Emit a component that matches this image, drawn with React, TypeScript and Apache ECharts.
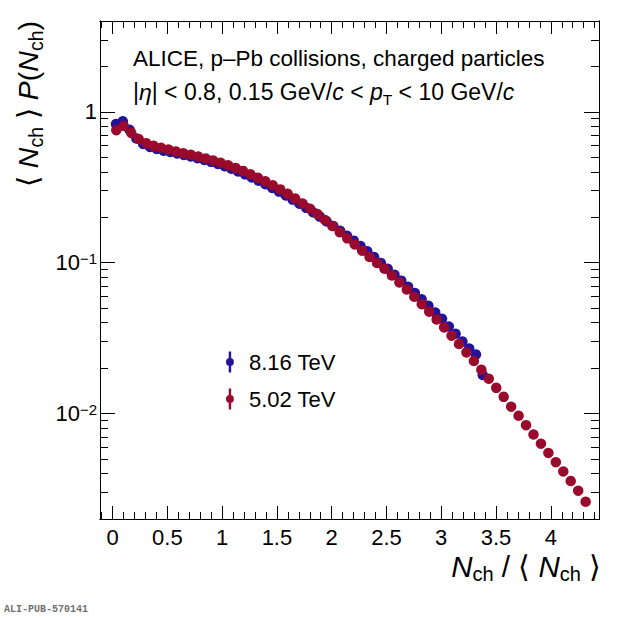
import React, { useEffect, useRef } from 'react';
import * as echarts from 'echarts';

const FONT = '"Liberation Sans", Arial, Helvetica, sans-serif';
const BLUE = '#22139c';
const RED = '#990a2c';

// 8.16 TeV: N_ch/<N_ch> bin centres and <N_ch>P(N_ch)
const x816 = [
  0.031, 0.093, 0.155, 0.217, 0.279, 0.341, 0.403, 0.465, 0.527, 0.589,
  0.651, 0.713, 0.775, 0.837, 0.899, 0.961, 1.023, 1.085, 1.147, 1.209,
  1.271, 1.333, 1.395, 1.457, 1.519, 1.581, 1.643, 1.705, 1.767, 1.829,
  1.891, 1.953, 2.015, 2.077, 2.139, 2.201, 2.263, 2.325, 2.387, 2.449,
  2.511, 2.573, 2.635, 2.697, 2.759, 2.821, 2.883, 2.945, 3.007, 3.069,
  3.131, 3.193, 3.255, 3.317, 3.379,
];
const y816 = [
  0.830, 0.865, 0.760, 0.665, 0.612, 0.585, 0.567, 0.553, 0.541, 0.530,
  0.518, 0.506, 0.493, 0.480, 0.466, 0.451, 0.436, 0.419, 0.402, 0.385,
  0.367, 0.349, 0.331, 0.313, 0.296, 0.279, 0.262, 0.246, 0.231, 0.216,
  0.202, 0.188, 0.175, 0.163, 0.151, 0.140, 0.129, 0.119, 0.109, 0.0995,
  0.0910, 0.0832, 0.0760, 0.0693, 0.0630, 0.0572, 0.0518, 0.0468, 0.0425, 0.0378,
  0.0338, 0.0300, 0.0270, 0.0246, 0.0180,
];

// 5.02 TeV
const x502 = [
  0.034, 0.102, 0.170, 0.238, 0.306, 0.374, 0.442, 0.510, 0.578, 0.646,
  0.714, 0.782, 0.850, 0.918, 0.986, 1.054, 1.122, 1.190, 1.258, 1.326,
  1.394, 1.462, 1.530, 1.598, 1.666, 1.734, 1.802, 1.870, 1.938, 2.006,
  2.074, 2.142, 2.210, 2.278, 2.346, 2.414, 2.482, 2.550, 2.618, 2.686,
  2.754, 2.822, 2.890, 2.958, 3.026, 3.094, 3.162, 3.230, 3.298, 3.366,
  3.434, 3.502, 3.570, 3.638, 3.706, 3.774, 3.842, 3.910, 3.978, 4.046,
  4.114, 4.182, 4.250, 4.318,
];
const y502 = [
  0.755, 0.805, 0.725, 0.660, 0.620, 0.595, 0.578, 0.563, 0.545, 0.532,
  0.519, 0.505, 0.491, 0.476, 0.460, 0.443, 0.425, 0.406, 0.386, 0.366,
  0.346, 0.326, 0.306, 0.286, 0.266, 0.247, 0.228, 0.210, 0.192, 0.175,
  0.159, 0.145, 0.132, 0.120, 0.109, 0.0995, 0.0912, 0.0822, 0.0740, 0.0664,
  0.0594, 0.0531, 0.0473, 0.0420, 0.0372, 0.0328, 0.0289, 0.0254, 0.0223, 0.0195,
  0.0170, 0.0148, 0.0129, 0.0111, 0.00966, 0.00838, 0.00726, 0.00631, 0.00548, 0.00476,
  0.00413, 0.00357, 0.00308, 0.00260,
];

// axis ticks (ROOT style: major + minor, on all four sides)
const xMajor = [0, 0.5, 1, 1.5, 2, 2.5, 3, 3.5, 4];
const xMinor = [
  -0.1, 0, 0.1, 0.2, 0.3, 0.4, 0.5, 0.6, 0.7, 0.8, 0.9, 1, 1.1, 1.2, 1.3, 1.4, 1.5,
  1.6, 1.7, 1.8, 1.9, 2, 2.1, 2.2, 2.3, 2.4, 2.5, 2.6, 2.7, 2.8, 2.9, 3, 3.1, 3.2,
  3.3, 3.4, 3.5, 3.6, 3.7, 3.8, 3.9, 4, 4.1, 4.2, 4.3, 4.4,
];
const yMajor = [0.01, 0.1, 1];
const yMajorLabels = ['10{s|−2}', '10{s|−1}', '1'];
const yMinor = [
  0.002, 0.003, 0.004, 0.005, 0.006, 0.007, 0.008, 0.009,
  0.02, 0.03, 0.04, 0.05, 0.06, 0.07, 0.08, 0.09,
  0.2, 0.3, 0.4, 0.5, 0.6, 0.7, 0.8, 0.9, 2, 3, 4,
];

const X_MIN = -0.115;
const X_MAX = 4.44;
const Y_MIN = 0.002;
const Y_MAX = 4;

const pairs = (xs: number[], ys: number[]) => xs.map((x, i) => [x, ys[i]]);

const legendIcon =
  'path://M3.6,0H6.4V24H3.6Z M5,7.5A4.5,4.5 0 1,1 5,16.5A4.5,4.5 0 1,1 5,7.5Z';

function xAxis(position: string, ticks: number[], len: number, labels: boolean) {
  return {
    type: 'value',
    min: X_MIN,
    max: X_MAX,
    position,
    axisLine: { show: true, onZero: false, lineStyle: { color: '#000', width: 1 } },
    axisTick: { show: true, inside: true, length: len, customValues: ticks, lineStyle: { color: '#000', width: 1 } },
    axisLabel: labels
      ? { show: true, customValues: xMajor, fontSize: 22, fontFamily: FONT, color: '#000', margin: 7 }
      : { show: false },
    splitLine: { show: false },
  };
}

function yAxis(position: string, ticks: number[], len: number, labels: boolean) {
  return {
    type: 'log',
    logBase: 10,
    min: Y_MIN,
    max: Y_MAX,
    position,
    axisLine: { show: true, onZero: false, lineStyle: { color: '#000', width: 1 } },
    axisTick: { show: true, inside: true, length: len, customValues: ticks, lineStyle: { color: '#000', width: 1 } },
    axisLabel: labels
      ? {
          show: true,
          customValues: yMajor,
          margin: 3,
          fontSize: 22,
          fontFamily: FONT,
          color: '#000',
          formatter: (v: number) => {
            const i = yMajor.findIndex((m) => Math.abs(m - v) / m < 1e-6);
            return i >= 0 ? yMajorLabels[i] : '';
          },
          rich: {
            s: { fontSize: 15, fontFamily: FONT, color: '#000', padding: [0, 0, 8, 0] },
          },
        }
      : { show: false },
    splitLine: { show: false },
  };
}

export default function App() {
  const chartRef = useRef<HTMLDivElement>(null);

  useEffect(() => {
    document.body.style.margin = '0';
    if (!chartRef.current) return () => {};
    const chart = echarts.init(chartRef.current, null, { renderer: 'svg' });

    const option = {
      animation: false,
      backgroundColor: '#fff',
      grid: { left: 100, right: 21, top: 21, bottom: 101 },
      xAxis: [
        xAxis('bottom', xMajor, 13, true),
        xAxis('bottom', xMinor, 7, false),
        xAxis('top', xMajor, 13, false),
        xAxis('top', xMinor, 7, false),
      ],
      yAxis: [
        yAxis('left', yMajor, 15, true),
        yAxis('left', yMinor, 8, false),
        yAxis('right', yMajor, 15, false),
        yAxis('right', yMinor, 8, false),
      ],
      legend: {
        orient: 'vertical',
        left: 221,
        top: 346,
        itemWidth: 8,
        itemHeight: 21,
        itemGap: 15,
        data: [
          { name: '8.16 TeV', icon: legendIcon },
          { name: '5.02 TeV', icon: legendIcon },
        ],
        textStyle: { fontSize: 22, fontFamily: FONT, color: '#000', padding: [0, 0, 0, 10] },
      },
      series: [
        {
          name: '8.16 TeV',
          type: 'scatter',
          xAxisIndex: 0,
          yAxisIndex: 0,
          symbol: 'circle',
          symbolSize: 10.5,
          itemStyle: { color: BLUE, opacity: 1 },
          data: pairs(x816, y816),
        },
        {
          name: '5.02 TeV',
          type: 'scatter',
          xAxisIndex: 0,
          yAxisIndex: 0,
          symbol: 'circle',
          symbolSize: 10.5,
          itemStyle: { color: RED, opacity: 1 },
          data: pairs(x502, y502),
        },
      ],
      graphic: [
        {
          type: 'text',
          x: 133,
          y: 58,
          style: {
            text: 'ALICE, p–Pb collisions, charged particles',
            fontSize: 22.5,
            fontFamily: FONT,
            fill: '#000',
            verticalAlign: 'middle',
          },
        },
        {
          type: 'text',
          x: 133,
          y: 92,
          style: {
            text: '|{i|η}| < 0.8, 0.15 GeV/{i|c} < {i|p}{sub|T} < 10 GeV/{i|c}',
            fontSize: 23,
            fontFamily: FONT,
            fill: '#000',
            lineHeight: 30,
            verticalAlign: 'middle',
            rich: {
              i: { fontSize: 23, fontStyle: 'italic', fontFamily: FONT, lineHeight: 30 },
              sub: { fontSize: 15.5, fontFamily: FONT, lineHeight: 30, padding: [14, 0, 0, 0] },
            },
          },
        },
        {
          type: 'text',
          x: 28,
          y: 21,
          rotation: Math.PI / 2,
          style: {
            text: '⟨ {i|N}{sub|ch} ⟩ {i|P}({i|N}{sub|ch})',
            fontSize: 28.5,
            fontFamily: FONT,
            fill: '#000',
            lineHeight: 36,
            align: 'right',
            verticalAlign: 'middle',
            rich: {
              i: { fontSize: 28.5, fontStyle: 'italic', fontFamily: FONT, lineHeight: 36 },
              sub: { fontSize: 19.5, fontFamily: FONT, lineHeight: 36, padding: [16, 0, 0, 0] },
            },
          },
        },
        {
          type: 'text',
          x: 601,
          y: 566,
          style: {
            text: '{i|N}{sub|ch} / ⟨ {i|N}{sub|ch} ⟩',
            fontSize: 29.5,
            fontFamily: FONT,
            fill: '#000',
            lineHeight: 36,
            align: 'right',
            verticalAlign: 'middle',
            rich: {
              i: { fontSize: 29.5, fontStyle: 'italic', fontFamily: FONT, lineHeight: 36 },
              sub: { fontSize: 20, fontFamily: FONT, lineHeight: 36, padding: [16, 0, 0, 0] },
            },
          },
        },
        {
          type: 'text',
          x: 4,
          y: 609,
          style: {
            text: 'ALI-PUB-570141',
            fontSize: 10,
            fontWeight: 'bold',
            fontFamily: '"Liberation Mono", "DejaVu Sans Mono", monospace',
            fill: '#707070',
            verticalAlign: 'middle',
          },
        },
      ],
    };

    chart.setOption(option as any);

    return () => {
      chart.dispose();
    };
  }, []);

  return (
    <div
      ref={chartRef}
      style={{ position: 'fixed', left: 0, top: 0, width: 620, height: 620 }}
    ></div>
  );
}
